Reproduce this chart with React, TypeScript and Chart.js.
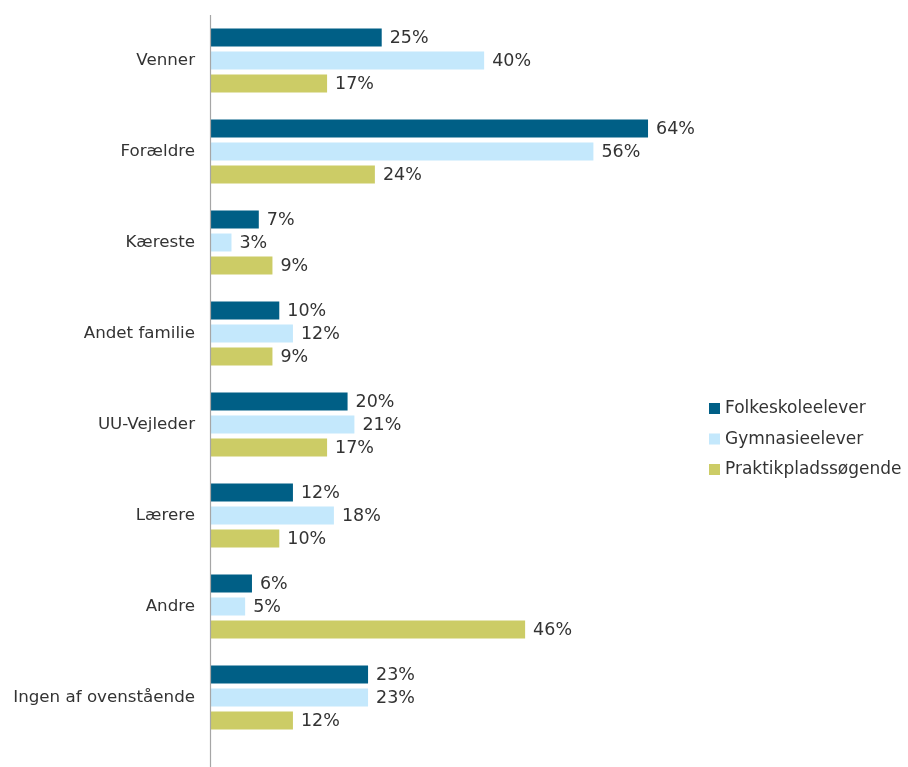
import React, { useEffect, useRef } from "react";
import { Chart, registerables } from "chart.js";

Chart.register(...registerables);

const categories = [
  "Venner",
  "Forældre",
  "Kæreste",
  "Andet familie",
  "UU-Vejleder",
  "Lærere",
  "Andre",
  "Ingen af ovenstående",
];
const seriesNames = ["Folkeskoleelever", "Gymnasieelever", "Praktikpladssøgende"];
const folkeskole = [25, 64, 7, 10, 20, 12, 6, 23];
const gymnasie = [40, 56, 3, 12, 21, 18, 5, 23];
const praktik = [17, 24, 9, 9, 17, 10, 46, 12];
const colors = ["#005f86", "#c4e8fc", "#cccc66"];

const FONT = "'DejaVu Sans', Verdana, sans-serif";
const TEXT = "#333333";

const labelPlugin = {
  id: "barLabels",
  afterDatasetsDraw(chart: any) {
    const ctx = chart.ctx;
    ctx.save();
    ctx.font = `17.5px ${FONT}`;
    ctx.fillStyle = TEXT;
    ctx.textAlign = "left";
    ctx.textBaseline = "middle";
    chart.data.datasets.forEach((ds: any, di: number) => {
      const meta = chart.getDatasetMeta(di);
      meta.data.forEach((el: any, i: number) => {
        ctx.fillText(`${ds.data[i]}%`, el.x + 8, el.y + 1);
      });
    });
    ctx.restore();
  },
};

const axisPlugin = {
  id: "axisLine",
  afterDraw(chart: any) {
    const ctx = chart.ctx;
    const x = Math.round(chart.chartArea.left) - 0.5;
    ctx.save();
    ctx.strokeStyle = "#a6a6a6";
    ctx.lineWidth = 1.2;
    ctx.beginPath();
    ctx.moveTo(x, chart.chartArea.top);
    ctx.lineTo(x, chart.height);
    ctx.stroke();
    ctx.restore();
  },
};

const legendPlugin = {
  id: "customLegend",
  afterDraw(chart: any) {
    const ctx = chart.ctx;
    ctx.save();
    ctx.font = `17px ${FONT}`;
    ctx.textBaseline = "middle";
    ctx.textAlign = "left";
    const x0 = 709;
    const y0 = 408;
    const step = 30.5;
    chart.data.datasets.forEach((ds: any, i: number) => {
      const y = y0 + i * step;
      ctx.fillStyle = ds.backgroundColor;
      ctx.fillRect(x0, y - 5, 11, 11);
      ctx.fillStyle = TEXT;
      ctx.fillText(ds.label, x0 + 16, y + 1);
    });
    ctx.restore();
  },
};

export default function App() {
  const ref = useRef<HTMLCanvasElement>(null);
  useEffect(() => {
    document.body.style.margin = "0";
    const chart = new Chart(ref.current!, {
      type: "bar",
      data: {
        labels: categories,
        datasets: [folkeskole, gymnasie, praktik].map((d, i) => ({
          label: seriesNames[i],
          data: d,
          backgroundColor: colors[i],
          categoryPercentage: 0.76,
          barPercentage: 0.78,
        })),
      },
      options: {
        indexAxis: "y",
        animation: false,
        responsive: false,
        layout: { padding: { top: 15, bottom: 24, right: 219, left: 0 } },
        plugins: {
          legend: { display: false },
          tooltip: { enabled: false },
        },
        scales: {
          x: {
            display: false,
            min: 0,
            max: 70,
          },
          y: {
            grid: { display: false, drawTicks: false },
            border: { display: false },
            ticks: {
              padding: 16,
              color: TEXT,
              font: { family: FONT, size: 16.7 },
            },
            afterFit(scale: any) {
              scale.width = 211;
              scale.paddingTop = 0;
              scale.paddingBottom = 0;
            },
          },
        },
      },
      plugins: [labelPlugin, axisPlugin, legendPlugin],
    });
    return () => chart.destroy();
  }, []);
  return (
    <div style={{ width: 908, height: 767 }}>
      <canvas ref={ref} width={908} height={767} />
    </div>
  );
}
